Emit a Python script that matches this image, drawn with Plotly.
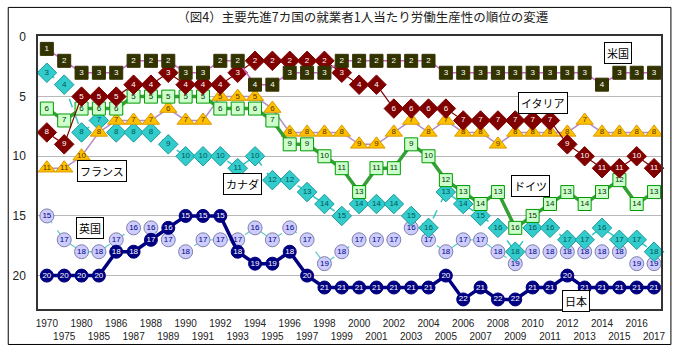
import plotly.graph_objects as go

years = ["1970", "1975", "1980"] + [str(y) for y in range(1985, 2018)]

us      = [1,2,3,3,3,2,2,2,3,3,2,2,4,4,3,3,3,2,2,2,2,2,2,3,3,3,3,3,3,3,3,3,4,3,3,3]
italy   = [8,9,5,5,5,4,4,3,4,4,4,3,2,2,2,2,2,3,4,4,6,6,6,6,7,7,7,7,7,7,9,10,11,11,10,11]
france  = [11,11,10,8,7,7,7,6,7,7,5,5,5,6,8,8,8,8,9,9,8,7,8,7,8,8,9,8,8,8,8,7,8,8,8,8]
germany = [6,7,6,6,6,5,5,5,5,5,6,6,6,7,9,9,10,11,13,11,11,9,10,12,13,14,13,16,15,14,13,14,13,12,14,13]
canada  = [3,4,8,7,8,8,8,9,10,10,10,11,10,12,12,13,14,15,14,14,14,15,16,13,14,15,16,18,16,16,17,17,16,17,17,18]
uk      = [15,17,18,18,17,16,16,17,18,17,17,17,16,17,16,17,19,18,17,17,17,16,17,18,17,17,18,19,18,18,18,18,18,18,19,19]
japan   = [20,20,20,20,18,18,17,16,15,15,15,18,19,19,18,20,21,21,21,21,21,21,21,20,22,21,22,22,21,21,20,21,21,21,21,21]

title = "（図4）主要先進7カ国の就業者1人当たり労働生産性の順位の変遷"
country_labels = ["米国", "イタリア", "フランス", "カナダ", "ドイツ", "英国", "日本"]
label_pos = [(32.9, 1.35), (28.6, 5.55), (3.15, 11.2), (11.3, 12.3), (27.9, 12.45), (2.5, 16.0), (30.5, 22.1)]

xi = list(range(len(years)))
ticktext = [y if i % 2 == 0 else "<br>" + y for i, y in enumerate(years)]

fig = go.Figure()

def add(vals, line_color, line_width, dash, symbol, msize, fill, border, bw, tcolor):
    fig.add_trace(go.Scatter(
        x=xi, y=vals, mode="lines+markers+text",
        text=[str(v) for v in vals], textposition="middle center",
        textfont=dict(size=8, color=tcolor, family="Liberation Sans"),
        line=dict(color=line_color, width=line_width, dash=dash),
        marker=dict(symbol=symbol, size=msize, color=fill, line=dict(color=border, width=bw)),
        showlegend=False, cliponaxis=False, hoverinfo="skip"))

add(uk, "#66cccc", 1.3, "dash", "circle", 14, "#ccccff", "#7f7fa8", 1, "#000080")
add(canada, "#33c6c6", 1.5, "dash", "diamond", 15, "#33cccc", "#1a9999", 1, "#005555")
add(japan, "#000080", 3.5, "solid", "circle", 13, "#000080", "#000080", 1, "#ffffff")
add(france, "#b48cc8", 1.5, "solid", "triangle-up", 15, "#ffc000", "#d99a00", 1, "#5a3300")
add(germany, "#33a033", 3.5, "solid", "square", 13, "#ccffcc", "#009900", 1, "#003300")
add(italy, "#800000", 1.2, "solid", "diamond", 15, "#800000", "#800000", 1, "#ffffff")
add(us, "#cc66cc", 1.5, "solid", "square", 13, "#333300", "#333300", 1, "#ffffff")

for lab, (lx, ly) in zip(country_labels, label_pos):
    fig.add_annotation(x=lx, y=ly, text=lab, showarrow=False,
                       font=dict(size=11, color="#000000", family="Noto Sans CJK JP"),
                       bgcolor="#ffffff", bordercolor="#000000", borderwidth=1, borderpad=2)

# outer frame
fig.add_shape(type="rect", xref="paper", yref="paper",
              x0=(3 - 33) / 628, x1=(671 - 33) / 628,
              y0=(313 - 349) / 277, y1=(313 - 7) / 277,
              line=dict(color="#000000", width=1), layer="below")

fig.update_layout(
    width=678, height=354,
    margin=dict(l=33, r=17, t=36, b=41),
    paper_bgcolor="#ffffff", plot_bgcolor="#ffffff",
    title=dict(text=title, x=0.535, xanchor="center", y=0.95, yanchor="middle",
               font=dict(size=12.5, color="#222222", family="Noto Sans CJK JP")),
    xaxis=dict(range=[-0.51, 35.4], tickvals=xi, ticktext=ticktext, tickangle=0,
               showgrid=False, zeroline=False, showline=True, linecolor="#333333",
               linewidth=1.5, mirror=True, ticks="", ticklabelstandoff=4,
               tickfont=dict(size=10, color="#222222", family="Liberation Sans")),
    yaxis=dict(range=[22.8, -0.08], tickvals=[0, 5, 10, 15, 20], showgrid=True,
               gridcolor="#b8b8b8", gridwidth=1, zeroline=False, showline=True,
               linecolor="#333333", linewidth=1.5, mirror=True, ticks="",
               ticklabelstandoff=8,
               tickfont=dict(size=12, color="#222222", family="Liberation Sans")),
)

fig.write_html("out.html")
